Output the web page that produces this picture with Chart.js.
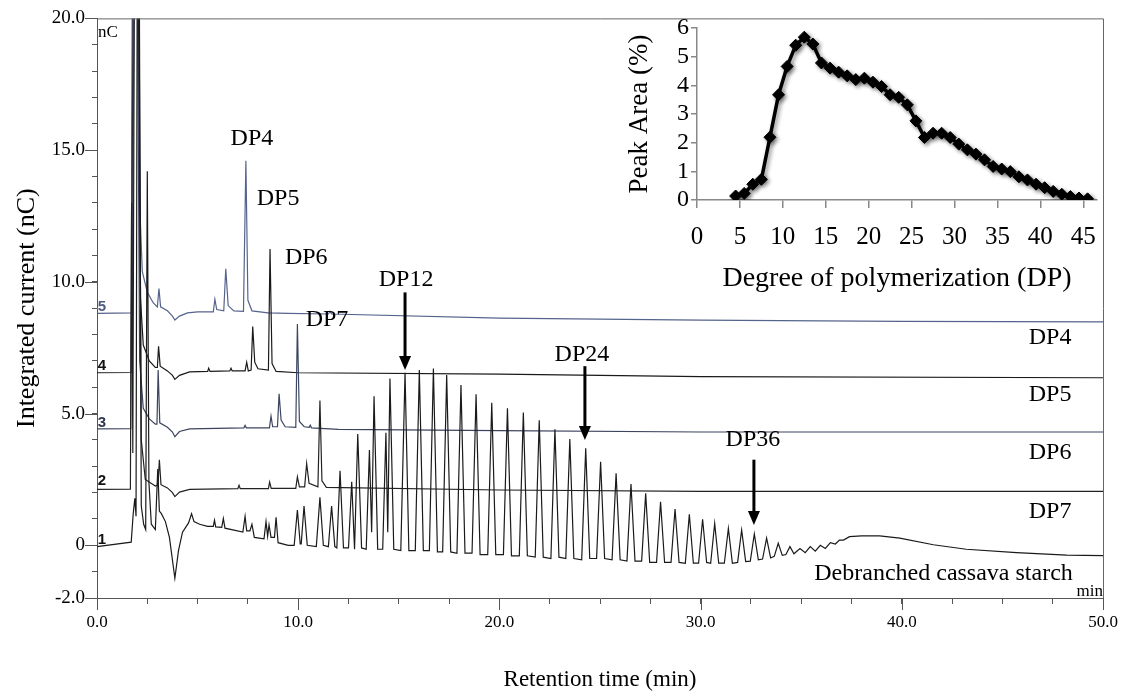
<!DOCTYPE html>
<html>
<head>
<meta charset="utf-8">
<script src="https://cdn.jsdelivr.net/npm/chart.js@4.4.1/dist/chart.umd.min.js"></script>
<style>
  html, body { margin: 0; padding: 0; background: #fff; }
  #wrap { position: relative; width: 1133px; height: 700px; }
  #main { position: absolute; left: 0; top: 0; }
  #inset { position: absolute; left: 600px; top: 0; }
</style>
</head>
<body>
<div id="wrap">
  <canvas id="main" width="1133" height="700"></canvas>
  <canvas id="inset" width="510" height="310"></canvas>
</div>
<script>
// chromatogrammes : [temps de rétention (min), courant intégré (nC)]
const trace5 = [[0,8.8],[1.75,8.82],[1.85,22],[2.02,22],[2.12,13],[2.25,10.4],[2.5,9.6],[2.8,9.2],[3.0,9.05],[3.08,9.75],[3.16,9.05],[3.5,8.9],[3.75,8.7],[3.87,8.55],[4.1,8.7],[4.5,8.82],[5.0,8.86],[5.78,8.86],[5.86,9.34],[5.95,8.95],[6.3,8.9],[6.4,10.5],[6.52,9.1],[6.8,8.9],[7.28,8.88],[7.4,14.6],[7.5,9.3],[7.7,8.9],[8.5,8.82],[9.5,8.8],[11.5,8.78],[11.58,8.88],[11.66,8.78],[20,8.62],[30,8.55],[40,8.5],[50,8.48]];

const trace4 = [[0,6.55],[1.7,6.56],[1.8,22],[2.05,22],[2.15,9.5],[2.3,7.6],[2.6,7.0],[2.9,6.75],[3.0,6.75],[3.06,7.55],[3.14,6.8],[3.5,6.62],[3.75,6.45],[3.87,6.3],[4.1,6.45],[4.6,6.58],[5.5,6.6],[5.55,6.72],[5.62,6.6],[6.6,6.62],[6.66,6.72],[6.72,6.62],[7.36,6.62],[7.44,6.95],[7.52,6.62],[7.66,6.65],[7.74,8.3],[7.84,6.95],[8.0,6.7],[8.52,6.65],[8.6,11.25],[8.7,6.9],[8.9,6.6],[10,6.55],[20,6.5],[30,6.4],[50,6.36]];

const trace3 = [[0,4.42],[1.68,4.43],[1.76,22],[2.0,22],[2.12,7],[2.3,5.2],[2.6,4.8],[2.9,4.6],[2.98,4.6],[3.04,6.65],[3.12,4.65],[3.5,4.48],[3.75,4.3],[3.87,4.12],[4.1,4.32],[4.6,4.42],[7.3,4.46],[7.36,4.55],[7.42,4.46],[8.57,4.46],[8.65,4.9],[8.73,4.5],[8.97,4.5],[9.05,5.75],[9.15,4.75],[9.35,4.5],[9.88,4.48],[9.96,8.4],[10.06,4.7],[10.3,4.5],[10.55,4.48],[10.6,4.56],[10.66,4.46],[12,4.4],[20,4.35],[30,4.3],[50,4.3]];

const trace2 = [[0,2.12],[1.66,2.13],[1.72,13],[1.78,3.5],[1.86,22],[2.08,22],[2.2,4],[2.4,2.5],[2.9,2.25],[3.03,2.3],[3.1,3.25],[3.18,2.3],[3.5,2.18],[3.75,2.0],[3.87,1.85],[4.1,2.02],[4.6,2.12],[7.0,2.15],[7.06,2.28],[7.12,2.15],[8.52,2.15],[8.58,2.4],[8.66,2.16],[9.88,2.16],[9.96,2.6],[10.06,2.22],[10.32,2.22],[10.42,3.1],[10.54,2.35],[10.98,2.22],[11.08,5.5],[11.18,2.45],[11.4,2.2],[20,2.1],[30,2.05],[50,2.05]];

const trace1 = [[0,-0.05],[1.7,0.12],[1.8,1.2],[1.88,1.78],[1.94,1.1],[2.0,22],[2.1,22],[2.2,1.5],[2.32,0.8],[2.42,0.6],[2.5,14.2],[2.58,2.4],[2.7,0.8],[2.9,0.6],[3.02,2.9],[3.1,1.3],[3.2,1.2],[3.4,0.9],[3.6,0.3],[3.87,-1.25],[4.05,-0.2],[4.25,0.5],[4.55,0.85],[4.7,1.2],[4.82,0.9],[5.1,0.8],[5.5,0.72],[5.78,0.72],[5.84,0.95],[5.9,0.7],[6.2,0.68],[6.28,1.02],[6.36,0.65],[7.25,0.5],[7.36,1.1],[7.44,0.55],[7.6,0.55],[7.7,0.8],[7.82,0.3],[8.3,0.25],[8.4,0.9],[8.48,0.35],[8.55,0.77],[8.65,0.3],[8.82,0.3],[8.9,1.06],[9.0,0.1],[9.5,0.0],
  [9.8,0.0],[9.96,1.34],[10.1,0.05],[10.15,0.05],[10.29,1.49],[10.45,0.0],
  [10.9,-0.05],[11.08,1.82],[11.25,0.0],
  [11.5,-0.05],[11.66,1.49],[11.82,-0.05],
  [11.92,-0.1],[12.08,2.83],[12.25,-0.1],
  [12.5,-0.1],[12.66,2.41],[12.8,-0.15],[12.96,4.22],[13.15,-0.1],
  [13.38,-0.15],[13.54,3.62],[13.65,0.5],[13.77,5.66],[13.95,-0.15],
  [14.2,-0.15],[14.36,4.27],[14.45,0.5],[14.56,6.33],[14.75,-0.15],
  [15.1,-0.2],[15.31,6.55],[15.5,-0.2],
  [15.82,-0.2],[16.02,6.65],[16.22,-0.2],
  [16.52,-0.2],[16.72,6.71],[16.92,-0.25],
  [17.18,-0.25],[17.38,6.46],[17.58,-0.25],
  [17.89,-0.3],[18.09,6.08],[18.29,-0.3],
  [18.64,-0.3],[18.84,5.73],[19.04,-0.35],
  [19.42,-0.35],[19.62,5.41],[19.82,-0.35],
  [20.2,-0.35],[20.4,5.2],[20.6,-0.4],
  [20.99,-0.4],[21.19,5.04],[21.39,-0.4],
  [21.78,-0.45],[21.98,4.75],[22.18,-0.45],
  [22.56,-0.5],[22.76,4.4],[22.96,-0.45],
  [23.3,-0.5],[23.5,4.03],[23.7,-0.5],
  [24.09,-0.55],[24.29,3.68],[24.49,-0.5],
  [24.83,-0.5],[25.03,3.17],[25.23,-0.5],
  [25.6,-0.55],[25.8,2.73],[26.0,-0.55],
  [26.34,-0.6],[26.54,2.33],[26.74,-0.6],
  [27.07,-0.6],[27.27,1.97],[27.47,-0.65],
  [27.81,-0.65],[28.01,1.65],[28.21,-0.65],
  [28.53,-0.65],[28.73,1.38],[28.93,-0.65],
  [29.24,-0.68],[29.44,1.18],[29.64,-0.68],
  [29.9,-0.68],[30.1,0.99],[30.3,-0.65],
  [30.5,-0.68],[30.7,0.83],[30.9,-0.68],
  [31.18,-0.68],[31.38,0.64],[31.58,-0.68],
  [31.84,-0.65],[32.04,0.58],[32.24,-0.62],
  [32.47,-0.6],[32.67,0.43],[32.87,-0.55],
  [33.08,-0.52],[33.28,0.27],[33.48,-0.48],
  [33.66,-0.42],[33.86,0.08],[34.06,-0.38],
  [34.24,-0.35],[34.44,-0.05],[34.64,-0.32],
  [34.94,-0.12],[35.2,-0.28],[35.45,-0.05],[35.7,-0.22],[35.95,0.0],[36.2,-0.12],[36.45,0.1],[36.7,0.05],[36.9,0.2],[37.1,0.2],[37.4,0.33],[38,0.36],[38.9,0.36],[39.9,0.27],[41.57,0.02],[43.2,-0.15],[45.7,-0.28],[48.2,-0.37],[50,-0.39]];

const traceColors = ['#1a1a1a', '#222222', '#3c4560', '#1a1a1a', '#55648c'];

// graduations étiquetées
const xTickLabels = [0, 10, 20, 30, 40, 50];
const yTickLabels = [20, 15, 10, 5, 0, -2];

// encart : distribution des aires de pics
const dpX = [4.5,5.5,6.5,7.5,8.5,9.5,10.5,11.5,12.5,13.5,14.5,15.5,16.5,17.5,18.5,19.5,20.5,21.5,22.5,23.5,24.5,25.5,26.5,27.5,28.5,29.5,30.5,31.5,32.5,33.5,34.5,35.5,36.5,37.5,38.5,39.5,40.5,41.5,42.5,43.5,44.5,45.5];
const peakArea = [0.14,0.23,0.55,0.72,2.19,3.67,4.66,5.4,5.68,5.44,4.78,4.6,4.46,4.33,4.2,4.25,4.11,3.96,3.67,3.58,3.32,2.76,2.18,2.33,2.33,2.18,1.95,1.75,1.6,1.4,1.17,1.08,0.99,0.81,0.7,0.55,0.43,0.3,0.2,0.12,0.07,0.04];

const SERIF = '"Liberation Serif", "Times New Roman", serif';

// texte + flèches sur le chromatogramme
const annotPlugin = {
  id: 'annot',
  afterDraw(chart) {
    const { ctx, chartArea: a, scales: { x, y } } = chart;
    const X = v => x.getPixelForValue(v), Y = v => y.getPixelForValue(v);
    ctx.save();

    // cadre haut / droite
    ctx.strokeStyle = '#666';
    ctx.lineWidth = 1;
    ctx.beginPath();
    ctx.moveTo(a.left, a.top + 0.5); ctx.lineTo(a.right + 0.5, a.top + 0.5); ctx.lineTo(a.right + 0.5, a.bottom);
    ctx.stroke();

    // graduations majeures plus longues
    ctx.strokeStyle = '#555';
    ctx.beginPath();
    yTickLabels.forEach(v => { ctx.moveTo(a.left - 12, Math.round(Y(v)) + 0.5); ctx.lineTo(a.left, Math.round(Y(v)) + 0.5); });
    xTickLabels.forEach(v => { ctx.moveTo(Math.round(X(v)) + 0.5, a.bottom); ctx.lineTo(Math.round(X(v)) + 0.5, a.bottom + 12); });
    ctx.stroke();

    ctx.fillStyle = '#000';
    ctx.textBaseline = 'middle';
    ctx.textAlign = 'center';
    ctx.font = '24px ' + SERIF;
    [['DP4', 7.7, 15.45], ['DP5', 9.0, 13.17], ['DP6', 10.4, 10.9], ['DP7', 11.43, 8.55],
     ['DP12', 15.36, 10.07], ['DP24', 24.1, 7.22], ['DP36', 32.6, 4.0]].forEach(([t, px, py]) => ctx.fillText(t, X(px), Y(py)));
    [['DP4', 7.87], ['DP5', 5.7], ['DP6', 3.5], ['DP7', 1.26]].forEach(([t, py]) => ctx.fillText(t, X(47.37), Y(py)));
    ctx.textAlign = 'right';
    ctx.fillText('Debranched cassava starch', X(48.5), Y(-1.06));
    ctx.font = '17px ' + SERIF;
    ctx.fillText('min', a.right, Y(-1.75));
    ctx.textAlign = 'left';
    ctx.fillText('nC', a.left + 1, Y(19.45));

    // numéros des traces
    ctx.font = 'bold 15px "Liberation Sans", Arial, sans-serif';
    ctx.textAlign = 'center';
    [['5', 9.05, '#4d5b80'], ['4', 6.8, '#111'], ['3', 4.64, '#2e3550'], ['2', 2.44, '#111'], ['1', 0.2, '#111']]
      .forEach(([t, py, c]) => { ctx.fillStyle = c; ctx.fillText(t, a.left + 5, Y(py)); });

    // flèches
    ctx.fillStyle = '#000';
    ctx.strokeStyle = '#000';
    ctx.lineWidth = 3;
    [[15.31, 9.6, 6.65], [24.25, 6.8, 4.0], [32.65, 3.25, 0.77]].forEach(([t, y0, y1]) => {
      const px = X(t), p0 = Y(y0), p1 = Y(y1);
      ctx.beginPath(); ctx.moveTo(px, p0); ctx.lineTo(px, p1 - 12); ctx.stroke();
      ctx.beginPath(); ctx.moveTo(px - 6, p1 - 14); ctx.lineTo(px + 6, p1 - 14); ctx.lineTo(px, p1); ctx.closePath(); ctx.fill();
    });
    ctx.restore();
  }
};

const traces = [trace1, trace2, trace3, trace4, trace5];

new Chart(document.getElementById('main'), {
  type: 'line',
  data: {
    datasets: traces.map((tr, i) => ({
      data: tr.map(([t, v]) => ({ x: t, y: v })),
      borderColor: traceColors[i],
      borderWidth: 1.2,
      pointRadius: 0,
      tension: 0
    }))
  },
  options: {
    responsive: false,
    animation: false,
    events: [],
    layout: { padding: { left: 0, right: 30, top: 18, bottom: 0 } },
    plugins: { legend: { display: false }, tooltip: { enabled: false } },
    scales: {
      x: {
        type: 'linear', min: 0, max: 50,
        afterFit: s => { s.height = 102; },
        border: { color: '#555', width: 1 },
        grid: { drawOnChartArea: false, tickLength: 6, color: '#555' },
        ticks: {
          stepSize: 2.5, autoSkip: false, maxRotation: 0, padding: 8, color: '#000',
          font: { family: SERIF, size: 17 },
          callback: v => (xTickLabels.includes(Math.round(v * 10) / 10) ? v.toFixed(1) : '')
        },
        title: { display: true, text: 'Retention time (min)', color: '#000', font: { family: SERIF, size: 23 }, padding: { top: 0, bottom: 6 } }
      },
      y: {
        min: -2, max: 20,
        afterFit: s => { s.width = 97; },
        border: { color: '#555', width: 1 },
        grid: { drawOnChartArea: false, tickLength: 5, color: '#555' },
        ticks: {
          stepSize: 1, autoSkip: false, padding: 7, color: '#000',
          font: { family: SERIF, size: 19 },
          callback: v => { const r = Math.round(v); return yTickLabels.includes(r) ? (r === 0 ? '0' : r.toFixed(1)) : ''; }
        },
        title: { display: true, text: 'Integrated current (nC)', color: '#000', font: { family: SERIF, size: 26 }, padding: { top: 12, bottom: 0 } }
      }
    }
  },
  plugins: [annotPlugin]
});

// ombre portée sous la courbe de l'encart
const shadowPlugin = {
  id: 'shadow',
  beforeDatasetsDraw(chart) {
    const c = chart.ctx;
    c.save();
    c.shadowColor = 'rgba(0,0,0,0.45)';
    c.shadowBlur = 4;
    c.shadowOffsetX = 2;
    c.shadowOffsetY = 2;
  },
  afterDatasetsDraw(chart) { chart.ctx.restore(); }
};

new Chart(document.getElementById('inset'), {
  type: 'line',
  data: {
    datasets: [{
      data: dpX.map((d, i) => ({ x: d, y: peakArea[i] })),
      borderColor: '#000', borderWidth: 3.5,
      pointStyle: 'rectRot', pointRadius: 6,
      pointBackgroundColor: '#000', pointBorderColor: '#000', pointBorderWidth: 1,
      tension: 0
    }]
  },
  options: {
    responsive: false,
    animation: false,
    events: [],
    layout: { padding: { left: 0, right: 6, top: 28, bottom: 0 } },
    plugins: { legend: { display: false }, tooltip: { enabled: false } },
    scales: {
      x: {
        type: 'linear', min: 0, max: 46.6,
        afterFit: s => { s.height = 110; },
        border: { color: '#888', width: 1.5 },
        grid: { drawOnChartArea: false, tickLength: 8, color: '#888', lineWidth: 1.5 },
        ticks: { stepSize: 5, includeBounds: false, autoSkip: false, maxRotation: 0, padding: 14, color: '#000', font: { family: SERIF, size: 25 } },
        title: { display: true, text: 'Degree of polymerization (DP)', color: '#000', font: { family: SERIF, size: 28 }, padding: { top: 0, bottom: 15 } }
      },
      y: {
        min: 0, max: 6,
        afterFit: s => { s.width = 97; },
        border: { color: '#888', width: 1.5 },
        grid: { drawOnChartArea: false, tickLength: 6, color: '#888', lineWidth: 1.5 },
        ticks: { stepSize: 1, autoSkip: false, padding: 2, color: '#000', font: { family: SERIF, size: 24 } },
        title: { display: true, text: 'Peak Area (%)', color: '#000', font: { family: SERIF, size: 27 }, padding: { top: 24, bottom: 0 } }
      }
    }
  },
  plugins: [shadowPlugin]
});
</script>
</body>
</html>
